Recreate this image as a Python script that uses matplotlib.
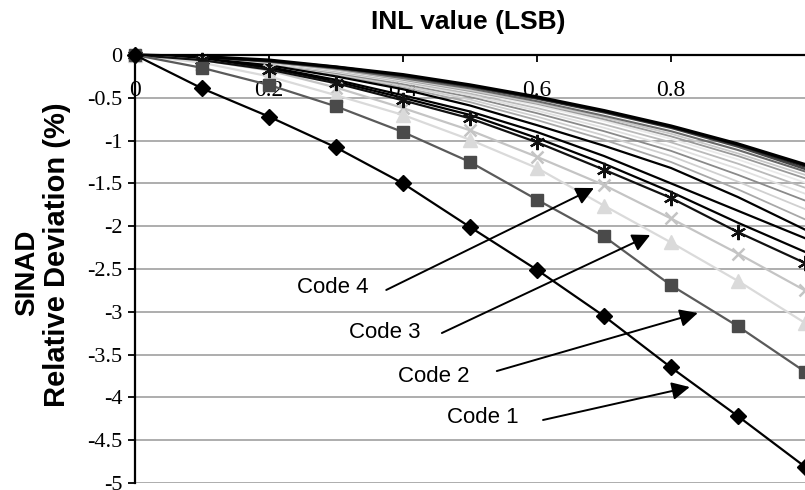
import matplotlib
matplotlib.use("Agg")
import matplotlib.pyplot as plt

# INL sweep (LSB) and SINAD relative deviation (%) for each code
inl = [0, 0.1, 0.2, 0.3, 0.4, 0.5, 0.6, 0.7, 0.8, 0.9, 1.0]

code1 = [0, -0.39, -0.72, -1.08, -1.50, -2.01, -2.51, -3.05, -3.65, -4.22, -4.81]
code2 = [0, -0.15, -0.35, -0.60, -0.90, -1.25, -1.69, -2.12, -2.69, -3.17, -3.70]
code3 = [0, -0.09, -0.25, -0.47, -0.70, -0.99, -1.32, -1.76, -2.19, -2.64, -3.13]
code4 = [0, -0.06, -0.18, -0.38, -0.62, -0.88, -1.19, -1.52, -1.91, -2.32, -2.75]
code5 = [0, -0.06, -0.17, -0.33, -0.53, -0.74, -1.02, -1.34, -1.67, -2.07, -2.43]

# remaining codes, no markers
black_codes = [
    [0, -0.05, -0.15, -0.31, -0.50, -0.70, -0.97, -1.27, -1.60, -1.96, -2.30],
    [0, -0.05, -0.14, -0.29, -0.47, -0.66, -0.90, -1.18, -1.50, -1.82, -2.14],
    [0, -0.04, -0.12, -0.25, -0.40, -0.59, -0.82, -1.06, -1.32, -1.66, -2.04],
]
gray_codes = [
    [0, -0.04, -0.11, -0.23, -0.38, -0.55, -0.76, -0.99, -1.25, -1.57, -1.92],
    [0, -0.04, -0.11, -0.22, -0.36, -0.52, -0.72, -0.94, -1.18, -1.48, -1.80],
    [0, -0.03, -0.10, -0.21, -0.34, -0.49, -0.68, -0.89, -1.12, -1.40, -1.70],
    [0, -0.03, -0.10, -0.20, -0.32, -0.47, -0.65, -0.85, -1.07, -1.33, -1.62],
    [0, -0.03, -0.09, -0.19, -0.31, -0.45, -0.62, -0.81, -1.02, -1.27, -1.55],
    [0, -0.03, -0.09, -0.18, -0.30, -0.43, -0.59, -0.77, -0.98, -1.22, -1.49],
    [0, -0.03, -0.08, -0.17, -0.29, -0.42, -0.57, -0.75, -0.95, -1.18, -1.44],
    [0, -0.03, -0.08, -0.17, -0.28, -0.41, -0.56, -0.73, -0.92, -1.15, -1.40],
    [0, -0.02, -0.08, -0.16, -0.27, -0.39, -0.54, -0.71, -0.89, -1.11, -1.36],
    [0, -0.02, -0.07, -0.15, -0.25, -0.37, -0.51, -0.67, -0.85, -1.07, -1.33],
    [0, -0.02, -0.07, -0.14, -0.24, -0.36, -0.50, -0.66, -0.84, -1.05, -1.30],
    [0, -0.02, -0.06, -0.14, -0.23, -0.35, -0.49, -0.65, -0.83, -1.04, -1.28],
]
gray_colors = ["#a8a8a8", "#d0d0d0", "#8a8a8a", "#e0e0e0", "#bababa", "#eaeaea",
               "#9a9a9a", "#c8c8c8", "#6a6a6a", "#454545", "#252525", "#000000"]
gray_widths = [1.3, 1.3, 1.3, 1.3, 1.3, 1.3, 1.3, 1.3, 1.5, 1.8, 2.0, 2.4]

x_ticks = [0, 0.2, 0.4, 0.6, 0.8]
x_tick_labels = ["0", "0.2", "0.4", "0.6", "0.8"]
y_ticks = [0, -0.5, -1, -1.5, -2, -2.5, -3, -3.5, -4, -4.5, -5]
y_tick_labels = ["0", "-0.5", "-1", "-1.5", "-2", "-2.5", "-3", "-3.5", "-4", "-4.5", "-5"]

callouts = ["Code 4", "Code 3", "Code 2", "Code 1"]

SANS = "Liberation Sans"
SERIF = "Liberation Serif"

fig = plt.figure(figsize=(8.05, 4.9), dpi=100)
ax = fig.add_axes([135 / 805, 7 / 490, 670 / 805, 428 / 490])
ax.set_xlim(0, 1.0)
ax.set_ylim(-5, 0)

# background bundle first, then the marked codes on top
for vals, col, lw in zip(gray_codes, gray_colors, gray_widths):
    ax.plot(inl, vals, color=col, lw=lw, zorder=3, clip_on=False)
for vals in black_codes:
    ax.plot(inl, vals, color="black", lw=1.6, zorder=3, clip_on=False)

ax.plot(inl, code4, color="#c4c4c4", lw=1.6, marker="x", ms=9, mew=1.8,
        zorder=4, clip_on=False)
ax.plot(inl, code3, color="#dadada", lw=1.6, marker="^", ms=10, mec="#dadada",
        zorder=4, clip_on=False)
ax.plot(inl, code5, color="#111111", lw=1.6, marker=(6, 2, 0), ms=11, mew=1.6,
        zorder=5, clip_on=False)
ax.plot(inl, code2, color="#5a5a5a", lw=1.6, marker="s", ms=9, mfc="#4a4a4a",
        mec="#4a4a4a", zorder=5, clip_on=False)
ax.plot(inl, code1, color="black", lw=1.6, marker="D", ms=8, zorder=6, clip_on=False)

# axis frame: x axis sits on y = 0 at the top, labels hang below it
for side in ("top", "right"):
    ax.spines[side].set_visible(False)
ax.spines["bottom"].set_position(("data", 0))
ax.spines["bottom"].set_linewidth(1.6)
ax.spines["left"].set_linewidth(1.6)
ax.spines["bottom"].set_zorder(7)
ax.spines["left"].set_zorder(7)

ax.set_xticks(x_ticks)
ax.set_xticklabels(x_tick_labels, fontfamily=SERIF, fontsize=17)
ax.set_yticks(y_ticks)
ax.set_yticklabels(y_tick_labels, fontfamily=SERIF, fontsize=16)
ax.tick_params(axis="x", direction="out", length=5, width=1.3, pad=13)
ax.tick_params(axis="y", direction="out", length=5, width=1.3, pad=4)

ax.yaxis.grid(True, color="#a0a0a0", lw=1.2)
ax.set_axisbelow(True)

# callout labels with arrows
label_pos = [(0.2955, -2.72), (0.373, -3.236), (0.446, -3.75), (0.519, -4.24)]
tails = [(0.375, -2.745), (0.458, -3.248), (0.540, -3.692), (0.609, -4.264)]
heads = [(0.685, -1.554), (0.769, -2.103), (0.840, -3.014), (0.828, -3.879)]
for name, pos, tail, head in zip(callouts, label_pos, tails, heads):
    ax.text(pos[0], pos[1], name, fontfamily=SANS, fontsize=16,
            ha="center", va="center", zorder=8)
    ax.annotate("", xy=head, xytext=tail, zorder=8,
                arrowprops=dict(arrowstyle="-|>,head_length=0.6,head_width=0.3",
                                mutation_scale=18, color="black", lw=1.4,
                                shrinkA=0, shrinkB=0))

fig.text(468 / 805, 1 - 22 / 490, "INL value (LSB)", fontfamily=SANS,
         fontsize=19, fontweight="bold", ha="center", va="center")
fig.text(27 / 805, 1 - 273 / 490, "SINAD", fontfamily=SANS, fontsize=20,
         fontweight="bold", rotation=90, ha="center", va="center")
fig.text(57 / 805, 1 - 255 / 490, "Relative Deviation (%)", fontfamily=SANS,
         fontsize=21, fontweight="bold", rotation=90, ha="center", va="center")

fig.savefig("out.png", dpi=100)
